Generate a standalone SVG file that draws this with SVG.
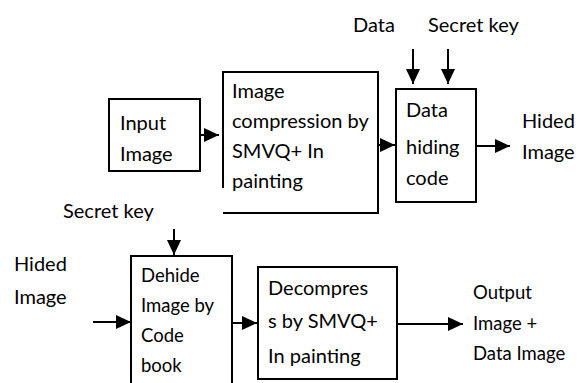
<svg xmlns="http://www.w3.org/2000/svg" width="587" height="383" viewBox="0 0 587 383">
<style>
.box{fill:#fff;stroke:#000;stroke-width:2}
.ln{fill:none;stroke:#000;stroke-width:2}
text{font-family:Lato,"Liberation Sans",Arial,sans-serif;font-size:20px;fill:#000}
.s{font-size:18.5px}
</style>
<defs>
<marker id="ah" viewBox="0 0 10 10" refX="10" refY="5" markerWidth="15" markerHeight="14" markerUnits="userSpaceOnUse" orient="auto" preserveAspectRatio="none">
<path d="M0,0 L10,5 L0,10 Z" fill="#000"/>
</marker>
</defs>
<rect width="587" height="383" fill="#fff"/>
<g id="connectors">
<line class="ln" x1="200" y1="135" x2="219" y2="135" marker-end="url(#ah)"/>
<line class="ln" x1="378" y1="145" x2="395" y2="145" marker-end="url(#ah)"/>
<line class="ln" x1="476" y1="146" x2="510" y2="146" marker-end="url(#ah)"/>
<line class="ln" x1="413" y1="49" x2="413" y2="84" marker-end="url(#ah)"/>
<line class="ln" x1="448" y1="49" x2="448" y2="84" marker-end="url(#ah)"/>
<line class="ln" x1="174" y1="229" x2="174" y2="255" marker-end="url(#ah)"/>
<line class="ln" x1="93" y1="322" x2="131" y2="322" marker-end="url(#ah)"/>
<line class="ln" x1="232" y1="323" x2="257" y2="323" marker-end="url(#ah)"/>
<line class="ln" x1="397" y1="324" x2="463" y2="324" marker-end="url(#ah)"/>
</g>
<g id="input">
<rect class="box" x="109" y="99" width="91" height="72"/>
<text x="120" y="130">Input</text>
<text x="120" y="161">Image</text>
</g>
<g id="compression">
<path class="ln" d="M223,188 L223,72 L378,72 L378,213 L223,213"/>
<text x="232" y="98">Image</text>
<text x="232" y="128">compression by</text>
<text x="232" y="158">SMVQ+ In</text>
<text x="232" y="188">painting</text>
</g>
<g id="datahiding">
<rect class="box" x="396" y="89" width="80" height="113"/>
<text x="406" y="117">Data</text>
<text x="406" y="154">hiding</text>
<text x="406" y="185">code</text>
</g>
<g id="labels-top">
<text x="353" y="32">Data</text>
<text x="428" y="32">Secret key</text>
<text x="522" y="128">Hided</text>
<text x="522" y="159">Image</text>
</g>
<g id="dehide">
<rect class="box" x="131" y="256" width="101" height="140"/>
<text class="s" x="141" y="282">Dehide</text>
<text class="s" x="141" y="312">Image by</text>
<text class="s" x="141" y="342">Code</text>
<text class="s" x="141" y="372">book</text>
</g>
<g id="decompress">
<rect class="box" x="258" y="267" width="139" height="112"/>
<text x="268" y="295">Decompres</text>
<text x="268" y="328">s by SMVQ+</text>
<text x="268" y="363">In painting</text>
</g>
<g id="labels-bottom">
<text x="63" y="218">Secret key</text>
<text x="14" y="271">Hided</text>
<text x="14" y="304">Image</text>
<text class="s" x="473" y="299">Output</text>
<text class="s" x="473" y="330">Image +</text>
<text class="s" x="473" y="360">Data Image</text>
</g>
</svg>
